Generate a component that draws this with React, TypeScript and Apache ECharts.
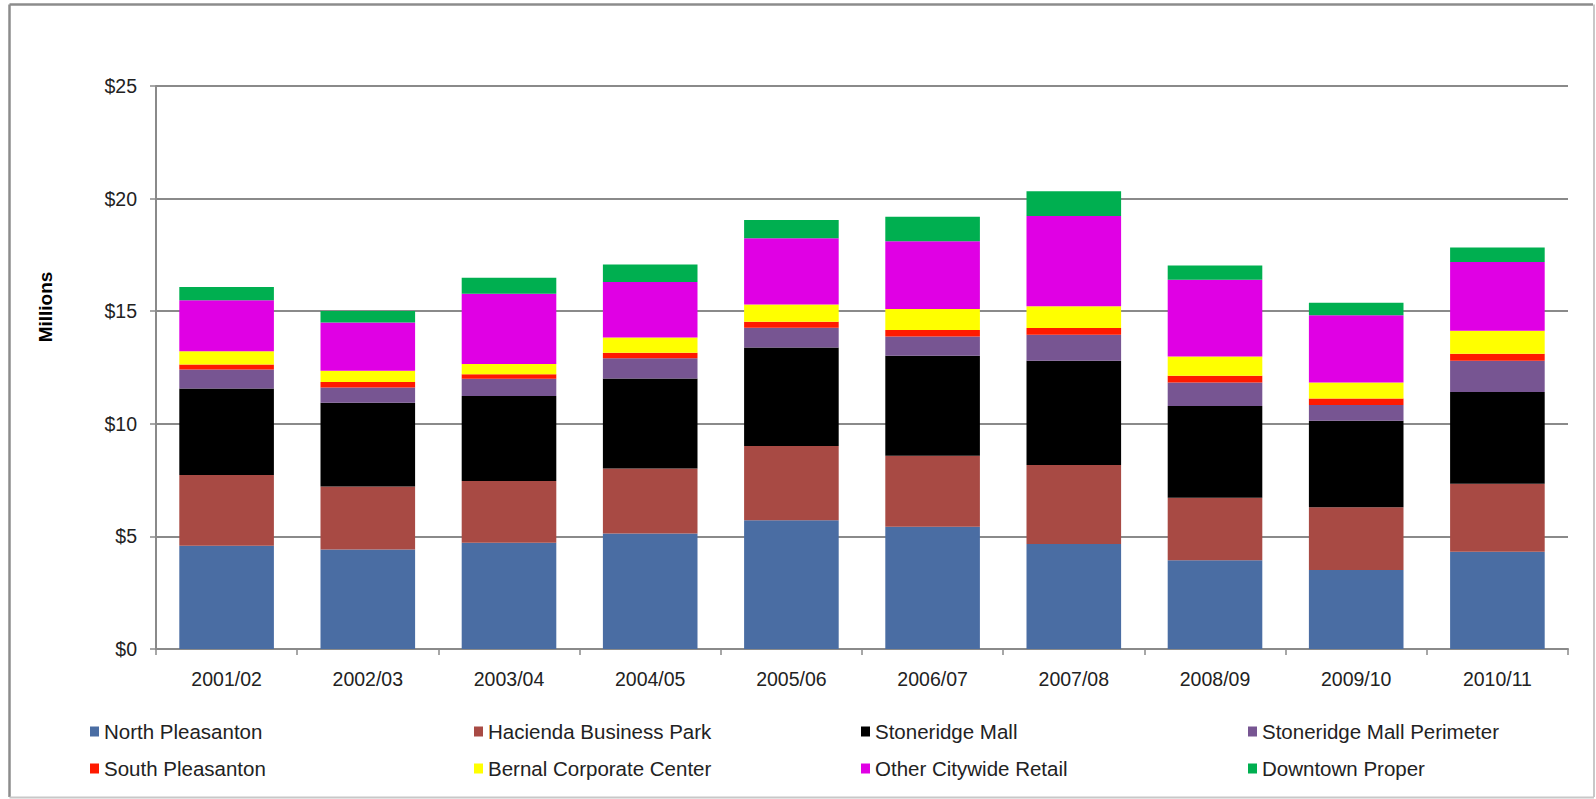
import React, { useEffect, useRef } from "react";
import * as echarts from "echarts";

const categories = ["2001/02", "2002/03", "2003/04", "2004/05", "2005/06", "2006/07", "2007/08", "2008/09", "2009/10", "2010/11"];

const northPleasanton = [4.59, 4.42, 4.72, 5.13, 5.72, 5.43, 4.66, 3.94, 3.51, 4.32];
const haciendaBusinessPark = [3.14, 2.80, 2.74, 2.89, 3.29, 3.15, 3.51, 2.78, 2.78, 3.02];
const stoneridgeMall = [3.84, 3.72, 3.78, 3.99, 4.38, 4.44, 4.63, 4.07, 3.84, 4.07];
const stoneridgeMallPerimeter = [0.84, 0.67, 0.76, 0.90, 0.87, 0.86, 1.15, 1.04, 0.70, 1.39];
const southPleasanton = [0.22, 0.25, 0.20, 0.24, 0.27, 0.28, 0.30, 0.30, 0.29, 0.31];
const bernalCorporateCenter = [0.59, 0.50, 0.45, 0.68, 0.77, 0.94, 0.97, 0.86, 0.71, 1.02];
const otherCitywideRetail = [2.27, 2.14, 3.13, 2.47, 2.94, 3.01, 4.01, 3.41, 2.99, 3.06];
const downtownProper = [0.59, 0.51, 0.70, 0.77, 0.81, 1.08, 1.10, 0.63, 0.56, 0.64];

const seriesNames = [
  "North Pleasanton",
  "Hacienda Business Park",
  "Stoneridge Mall",
  "Stoneridge Mall Perimeter",
  "South Pleasanton",
  "Bernal Corporate Center",
  "Other Citywide Retail",
  "Downtown Proper",
];
const seriesData = [
  northPleasanton,
  haciendaBusinessPark,
  stoneridgeMall,
  stoneridgeMallPerimeter,
  southPleasanton,
  bernalCorporateCenter,
  otherCitywideRetail,
  downtownProper,
];
const seriesColors = ["#4a6da3", "#a84a44", "#000000", "#775592", "#ff1a00", "#ffff00", "#e000e4", "#00af50"];

const yTicks = { min: 0, max: 25, interval: 5 };

const FONT = "'Liberation Sans', Arial, sans-serif";
const GRAY = "#8a8a8a";
const TEXT = "#222222";

export default function App() {
  const ref = useRef<HTMLDivElement>(null);

  useEffect(() => {
    if (!ref.current) return;
    const chart = echarts.init(ref.current, undefined, { renderer: "svg" });

    const legendCols = [85, 469, 856, 1243];
    const legends = legendCols.map((left, i) => ({
      orient: "vertical",
      left,
      top: 716,
      itemWidth: 9,
      itemHeight: 10,
      itemGap: 16,
      icon: "rect",
      data: [seriesNames[i], seriesNames[i + 4]],
      textStyle: { fontFamily: FONT, fontSize: 20.5, color: TEXT, lineHeight: 20 },
      selectedMode: false,
    }));

    chart.setOption({
      animation: false,
      backgroundColor: "#ffffff",
      textStyle: { fontFamily: FONT },
      grid: { left: 156, right: 28, top: 86, bottom: 150, containLabel: false },
      legend: legends,
      xAxis: {
        type: "category",
        data: categories,
        axisLine: { show: true, lineStyle: { color: GRAY, width: 2 } },
        axisTick: { show: true, length: 6, lineStyle: { color: GRAY, width: 1.5 } },
        axisLabel: { interval: 0, fontFamily: FONT, fontSize: 19.5, color: TEXT, margin: 20 },
      },
      yAxis: {
        type: "value",
        min: yTicks.min,
        max: yTicks.max,
        interval: yTicks.interval,
        axisLine: { show: true, lineStyle: { color: GRAY, width: 2 } },
        axisTick: { show: true, length: 6, lineStyle: { color: GRAY, width: 1.5 } },
        axisLabel: { fontFamily: FONT, fontSize: 19.5, color: TEXT, margin: 19, formatter: (v: number) => "$" + v },
        splitLine: { show: true, lineStyle: { color: GRAY, width: 2 } },
      },
      series: seriesNames.map((name, i) => ({
        name,
        type: "bar",
        stack: "total",
        barCategoryGap: "33%",
        data: seriesData[i],
        itemStyle: { color: seriesColors[i] },
        emphasis: { disabled: true },
      })),
      graphic: [
        {
          type: "text",
          x: 45,
          y: 307,
          rotation: Math.PI / 2,
          style: {
            text: "Millions",
            fontFamily: FONT,
            fontSize: 19,
            fontWeight: "bold",
            fill: "#000",
            textAlign: "center",
            textVerticalAlign: "middle",
          },
        },
        { type: "line", shape: { x1: 9.5, y1: 4.5, x2: 1593, y2: 4.5 }, style: { stroke: "#8c8c8c", lineWidth: 2.5 } },
        { type: "line", shape: { x1: 9.5, y1: 4.5, x2: 9.5, y2: 797 }, style: { stroke: "#8c8c8c", lineWidth: 2.5 } },
        { type: "line", shape: { x1: 1594, y1: 4.5, x2: 1594, y2: 797 }, style: { stroke: "#c8c8c8", lineWidth: 2 } },
        { type: "line", shape: { x1: 9.5, y1: 797.5, x2: 1594, y2: 797.5 }, style: { stroke: "#c8c8c8", lineWidth: 2 } },
      ],
    });

    return () => chart.dispose();
  }, []);

  return (
    <div
      ref={ref}
      style={{ position: "absolute", left: 0, top: 0, width: 1596, height: 799, background: "#fff" }}
    />
  );
}
